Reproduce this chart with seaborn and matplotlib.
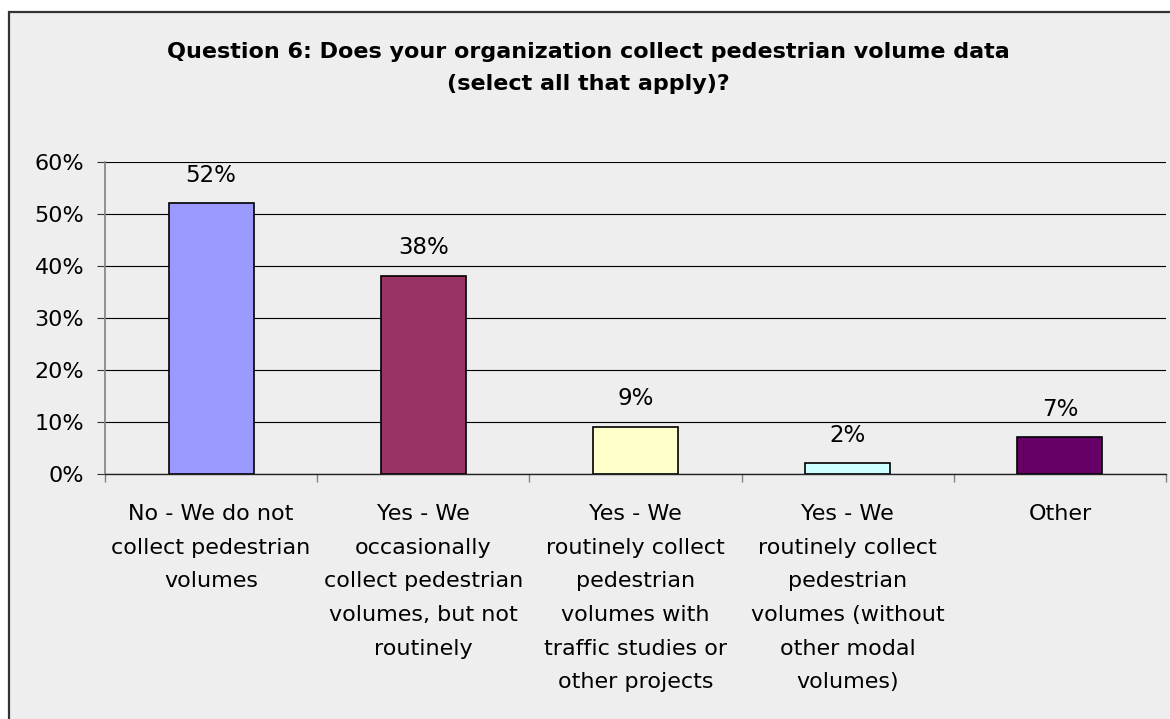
import matplotlib
matplotlib.use("Agg")
import matplotlib.pyplot as plt
from matplotlib.patches import Rectangle
from matplotlib.ticker import FixedLocator, FuncFormatter
import seaborn as sns

categories = [
    "No - We do not\ncollect pedestrian\nvolumes",
    "Yes - We\noccasionally\ncollect pedestrian\nvolumes, but not\nroutinely",
    "Yes - We\nroutinely collect\npedestrian\nvolumes with\ntraffic studies or\nother projects",
    "Yes - We\nroutinely collect\npedestrian\nvolumes (without\nother modal\nvolumes)",
    "Other",
]
values = [52, 38, 9, 2, 7]
colors = ["#9999FF", "#993366", "#FFFFCC", "#CCFFFF", "#660066"]
yticks = [0, 10, 20, 30, 40, 50, 60]
title = "Question 6: Does your organization collect pedestrian volume data\n(select all that apply)?"

sns.set_theme(style="white")
plt.rcParams["font.family"] = ["DejaVu Sans"]

W, H = 1170, 719
fig = plt.figure(figsize=(W / 100, H / 100), dpi=100)
fig.patch.set_facecolor("white")
fig.patches.append(Rectangle((8.5 / W, -0.05), 1.2, 1 - 12 / H + 0.05,
                             transform=fig.transFigure, facecolor="#EEEEEE",
                             edgecolor="#333333", linewidth=1.6, zorder=-10))

ax = fig.add_axes([105 / W, 1 - 473.7 / H, 1061 / W, (473.7 - 161.7) / H])
ax.set_facecolor("none")

sns.barplot(x=categories, y=values, hue=categories, palette=colors, width=0.4,
            edgecolor="black", linewidth=1.2, legend=False, saturation=1, ax=ax)

ax.set_xlim(-0.5, len(categories) - 0.5)
ax.set_ylim(0, 60)
ax.yaxis.set_major_locator(FixedLocator(yticks))
ax.yaxis.set_major_formatter(FuncFormatter(lambda v, p: f"{v:.0f}%"))
ax.set_axisbelow(True)
ax.yaxis.grid(True, color="black", linewidth=0.8)
ax.xaxis.grid(False)

for s in ["top", "right"]:
    ax.spines[s].set_visible(False)
ax.spines["left"].set_color("#808080")
ax.spines["left"].set_linewidth(1.2)
ax.spines["bottom"].set_color("#222222")
ax.spines["bottom"].set_linewidth(1.0)

ax.tick_params(axis="y", which="major", direction="out", length=6, width=0.8,
               color="#333333", pad=9, labelsize=16, labelcolor="black", left=True)
ax.set_xticks(range(len(categories)))
ax.set_xticklabels(categories, linespacing=1.85)
ax.tick_params(axis="x", which="major", length=0, pad=22, labelsize=16, labelcolor="black")
ax.set_xticks([i - 0.5 for i in range(len(categories) + 1)], minor=True)
ax.tick_params(axis="x", which="minor", direction="out", length=6, width=1.0,
               color="#808080", bottom=True)
ax.set_xlabel("")
ax.set_ylabel("")

for c in ax.containers:
    ax.bar_label(c, fmt="{:.0f}%", padding=12, fontsize=16.5, color="black")

fig.text(588 / W, 1 - 67.5 / H, title, ha="center", va="center", fontsize=16,
         fontweight="bold", linespacing=1.75, color="black")

fig.savefig("out.png", dpi=100)
